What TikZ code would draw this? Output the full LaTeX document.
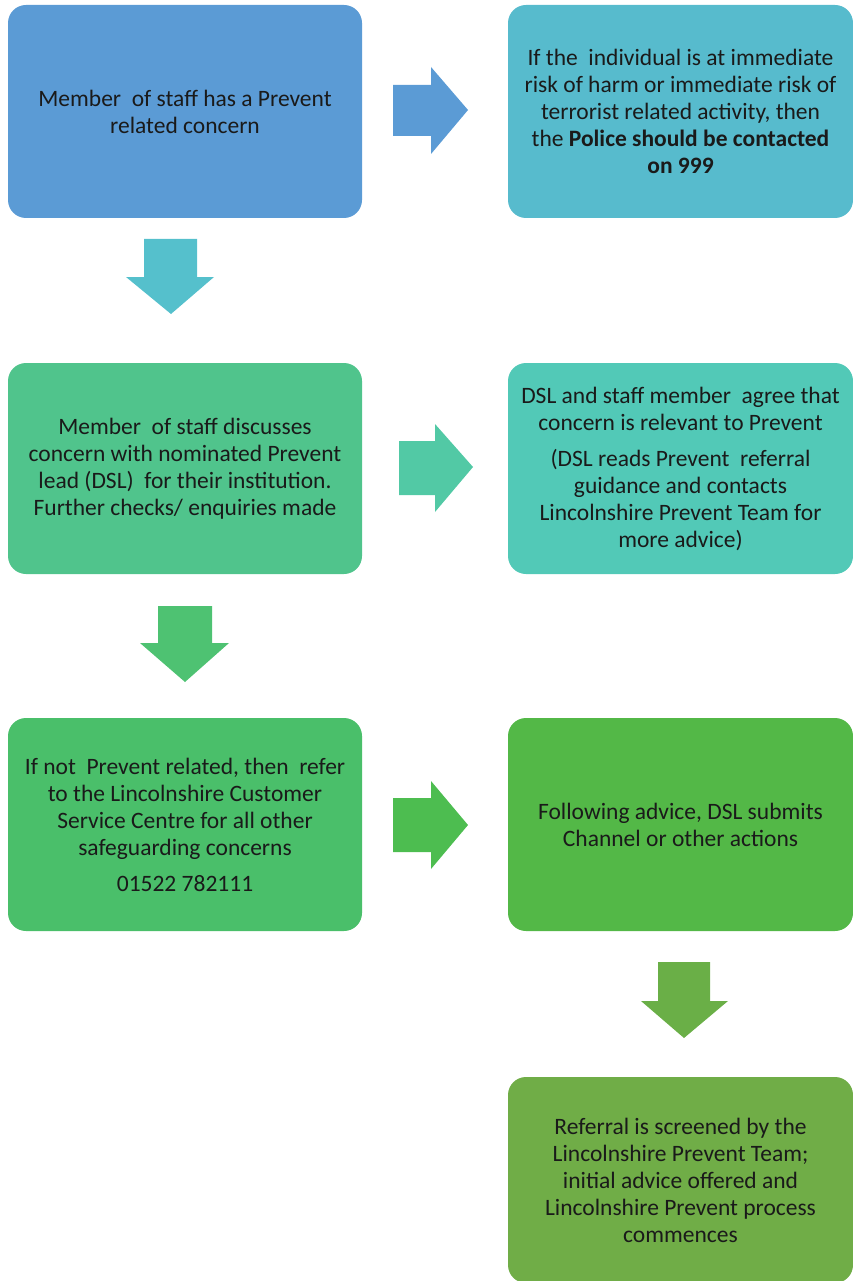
\documentclass[tikz,border=0pt]{standalone}
\usepackage{fontspec}
\setmainfont{Carlito}
\definecolor{cA}{HTML}{5B9BD5}
\definecolor{cB}{HTML}{57BBCD}
\definecolor{cC}{HTML}{55C0CC}
\definecolor{cD}{HTML}{50C48C}
\definecolor{cE}{HTML}{52C9B7}
\definecolor{cF}{HTML}{52C9A5}
\definecolor{cG}{HTML}{4EC272}
\definecolor{cH}{HTML}{4ABF6A}
\definecolor{cI}{HTML}{4DBD50}
\definecolor{cJ}{HTML}{53B847}
\definecolor{cK}{HTML}{6AAF47}
\definecolor{cL}{HTML}{70AD47}
\definecolor{txt}{HTML}{1A1A1A}
\tikzset{
  box/.style={rectangle, rounded corners=18pt, inner sep=0pt, align=center,
    text=txt, font=\fontsize{23.5}{27}\selectfont},
  lbox/.style={box, minimum width=354pt},
  rbox/.style={box, minimum width=345pt},
}
\begin{document}
\begin{tikzpicture}[x=1pt,y=-1pt]
\useasboundingbox (0,0) rectangle (853,1281);
% boxes
\node[lbox, fill=cA, minimum height=213pt] (b1) at (185,111.5)
  {Member\ \ of staff has a Prevent\\related concern};
\node[rbox, fill=cB, minimum height=213pt] (b2) at (680.5,111.5)
  {If the\ \ individual is at immediate\\risk of harm or immediate risk of\\terrorist related activity, then\\the \textbf{Police should be contacted}\\\textbf{on 999}};
\node[lbox, fill=cD, minimum height=211pt] (b3) at (185,468.5)
  {Member\ \ of staff discusses\\concern with nominated Prevent\\lead (DSL)\ \ for their institution.\\Further checks/ enquiries made};
\node[rbox, fill=cE, minimum height=211pt] (b4) at (680.5,468.5)
  {DSL and staff member\ \ agree that\\concern is relevant to Prevent\\[9pt](DSL reads Prevent\ \ referral\\guidance and contacts\\Lincolnshire Prevent Team for\\more advice)};
\node[lbox, fill=cH, minimum height=213pt] (b5) at (185,824.5)
  {If not\ \ Prevent related, then\ \ refer\\to the Lincolnshire Customer\\Service Centre for all other\\safeguarding concerns\\[9pt]01522 782111};
\node[rbox, fill=cJ, minimum height=213pt] (b6) at (680.5,824.5)
  {Following advice, DSL submits\\Channel or other actions};
\node[rbox, fill=cL, minimum height=206pt] (b7) at (680.5,1180)
  {Referral is screened by the\\Lincolnshire Prevent Team;\\initial advice offered and\\Lincolnshire Prevent process\\commences};
% block arrows (right)
\fill[cA] (393,85) -- (431,85) -- (431,67) -- (468,110) -- (431,154) -- (431,136) -- (393,136) -- cycle;
\fill[cF] (399,441) -- (435,441) -- (435,424) -- (473,467) -- (435,512) -- (435,495) -- (399,495) -- cycle;
\fill[cI] (393,798) -- (431,798) -- (431,781) -- (468,825) -- (431,869) -- (431,852) -- (393,852) -- cycle;
% block arrows (down)
\fill[cC] (144,239) -- (197,239) -- (197,277) -- (214,277) -- (171,314) -- (126,277) -- (144,277) -- cycle;
\fill[cG] (158,606) -- (212,606) -- (212,643) -- (229,643) -- (185,682) -- (140,643) -- (158,643) -- cycle;
\fill[cK] (658,962) -- (710,962) -- (710,1001) -- (728,1001) -- (684,1038) -- (641,1001) -- (658,1001) -- cycle;
\end{tikzpicture}
\end{document}
